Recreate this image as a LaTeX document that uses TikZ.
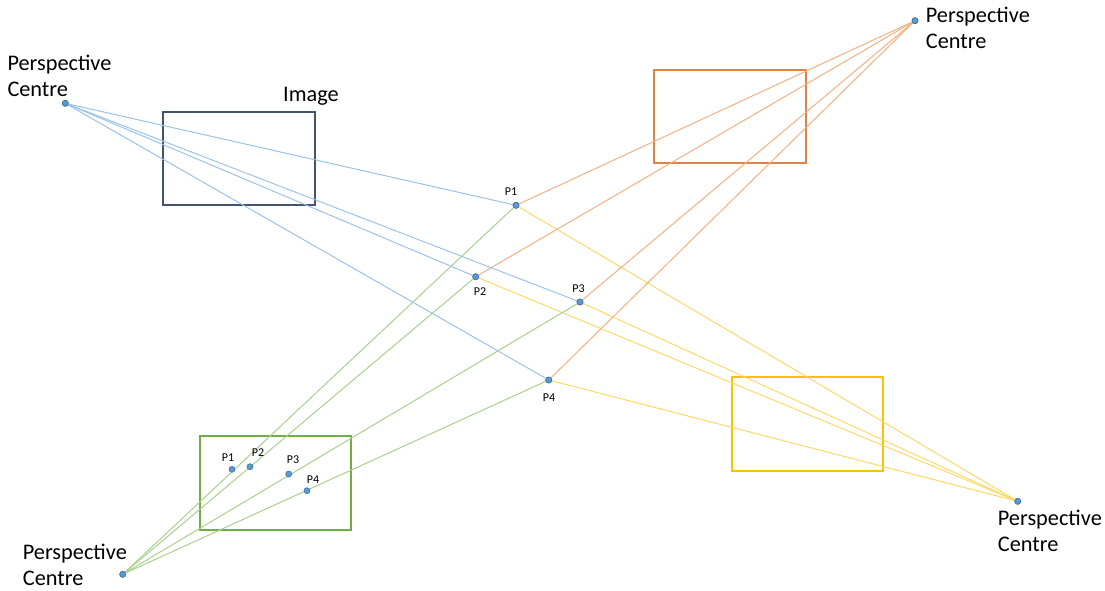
\documentclass[tikz,border=0pt]{standalone}
\usepackage{fontspec}
\setmainfont{Carlito}
\begin{document}
\begin{tikzpicture}[x=1pt,y=-1pt,
  dot/.style={circle,fill=dotfill,draw=dotline,line width=0.6pt,inner sep=0pt,minimum size=6pt},
  bigtext/.style={anchor=north west,align=left,inner sep=0pt,font=\fontsize{22.3}{26}\selectfont},
  plabel/.style={inner sep=0pt,font=\fontsize{12}{14}\selectfont},
  frame/.style={line width=2pt},
  ray/.style={line width=1pt}]
\definecolor{dotfill}{HTML}{5B9BD5}
\definecolor{dotline}{HTML}{41719C}
\definecolor{imgframe}{HTML}{44546A}
\definecolor{orframe}{HTML}{E08248}
\definecolor{grframe}{HTML}{70AD47}
\definecolor{yeframe}{HTML}{FFC000}
\definecolor{bluray}{HTML}{9DC3E6}
\definecolor{orray}{HTML}{F4B183}
\definecolor{grray}{HTML}{A9D18E}
\definecolor{yeray}{HTML}{FFD966}
\useasboundingbox[fill=white] (0,0) rectangle (1105,590);

% image frames
\draw[frame,imgframe] (163.3,112) rectangle (315,205.3);
\draw[frame,orframe] (653.7,70) rectangle (805.7,163.3);
\draw[frame,grframe] (199.7,435.7) rectangle (350.7,530);
\draw[frame,yeframe] (731.7,377.3) rectangle (883.3,471);

% perspective centres and object points
\node[dot] (pc1) at (65.3,103.3) {};
\node[dot] (pc2) at (915,20.7) {};
\node[dot] (pc3) at (122.7,574.3) {};
\node[dot] (pc4) at (1017.7,501.3) {};
\node[dot] (p1) at (516,205.3) {};
\node[dot] (p2) at (475.7,276.7) {};
\node[dot] (p3) at (580,302) {};
\node[dot] (p4) at (548.7,380) {};

% rays
\foreach \p in {p1,p2,p3,p4}{
  \draw[ray,bluray] (pc1) -- (\p);
  \draw[ray,orray] (pc2) -- (\p);
  \draw[ray,grray] (pc3) -- (\p);
  \draw[ray,yeray] (pc4) -- (\p);
}

% redraw dots above rays
\foreach \p in {pc1,pc2,pc3,pc4,p1,p2,p3,p4}{
  \fill[dotfill,draw=dotline,line width=0.6pt] (\p) circle (3pt);
}

% image points in the green frame
\node[dot] (g1) at (232,469.3) {};
\node[dot] (g2) at (250,466.7) {};
\node[dot] (g3) at (288.7,474) {};
\node[dot] (g4) at (307,490.7) {};

% labels
\node[bigtext] (l1) at (7.3,55) {Perspective\\Centre};
\node[bigtext] (l2) at (925.7,7.3) {Perspective\\Centre};
\node[bigtext] (l3) at (22.7,544) {Perspective\\Centre};
\node[bigtext] (l4) at (997.7,510) {Perspective\\Centre};
\node[bigtext] (limg) at (283,86.7) {Image};

\node[plabel] (t1) at (511,191.5) {P1};
\node[plabel] (t2) at (480,292) {P2};
\node[plabel] (t3) at (578.5,289) {P3};
\node[plabel] (t4) at (549,398) {P4};
\node[plabel] (s1) at (228,458) {P1};
\node[plabel] (s2) at (258,452.7) {P2};
\node[plabel] (s3) at (293,460) {P3};
\node[plabel] (s4) at (313,480) {P4};
\end{tikzpicture}
\end{document}
